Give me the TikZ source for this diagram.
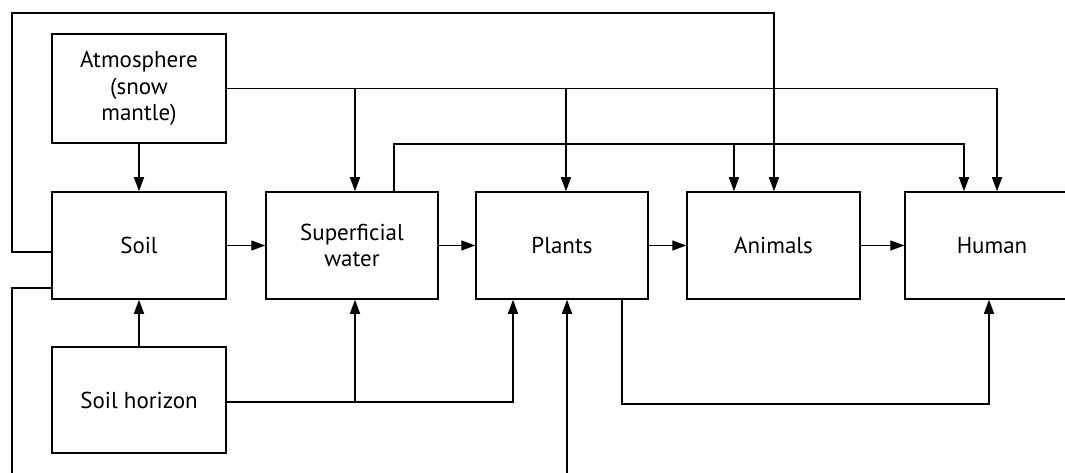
\documentclass[tikz,border=0pt]{standalone}
\usepackage{fontspec}
\setmainfont{PT Sans}
\usetikzlibrary{arrows.meta}
\begin{document}
\begin{tikzpicture}[x=1pt,y=-1pt,
  box/.style={draw,line width=1.5pt,minimum width=174pt,minimum height=107pt,inner sep=0pt,align=center,font=\fontsize{23}{26.5}\selectfont},
  arr/.style={line width=1.4pt,-{Triangle[length=14pt,width=10pt]}},
  ln/.style={line width=1.4pt}]
\useasboundingbox (0,0) rectangle (1065,473);
\clip (0,0) rectangle (1065,473);
\node[box,minimum height=109pt] (atm) at (139,88.5) {Atmosphere\\(snow\\mantle)};
\node[box] (soil) at (139,245.5) {Soil};
\node[box,minimum height=106pt] (hor) at (139,400) {Soil horizon};
\node[box,minimum width=172pt] (sw) at (352,245.5) {Superficial\\water};
\node[box,minimum width=172pt] (pl) at (562,245.5) {Plants};
\node[box,minimum width=173pt] (an) at (773.5,245.5) {Animals};
\node[box] (hu) at (992,245.5) {Human};
% vertical links in the left column
\draw[arr] (atm) -- (soil);
\draw[arr] (hor) -- (soil);
% main chain
\draw[arr] (soil) -- (sw);
\draw[arr] (sw) -- (pl);
\draw[arr] (pl) -- (an);
\draw[arr] (an) -- (hu);
% top loop soil -> animals
\coordinate (tl) at (12,252);
\coordinate (tr) at (774,13);
\draw[arr] (soil.west |- tl) -- (tl) |- (tr) -- (tr |- an.north);
% bottom loop from soil
\coordinate (bl) at (12,288);
\coordinate (bb) at (12,480);
\draw[ln] (soil.west |- bl) -- (bl) -- (bb);
% input from below to plants
\coordinate (pb) at (567,480);
\draw[arr] (pb) -- (pb |- pl.south);
% atmosphere distribution line
\coordinate (a1) at (355,88.5);
\coordinate (a2) at (566,88.5);
\coordinate (a3) at (997,88.5);
\draw[ln] (atm.east) -- (a3);
\draw[arr] (a1) -- (a1 |- sw.north);
\draw[arr] (a2) -- (a2 |- pl.north);
\draw[arr] (a3) -- (a3 |- hu.north);
% superficial water distribution line
\coordinate (s0) at (394,144);
\coordinate (s1) at (734,144);
\coordinate (s2) at (964,144);
\draw[arr] (s0 |- sw.north) -- (s0) -- (s2) -- (s2 |- hu.north);
\draw[arr] (s1) -- (s1 |- an.north);
% soil horizon line
\coordinate (h0) at (355,402);
\coordinate (h1) at (513,402);
\draw[arr] (hor.east |- h0) -- (h1) -- (h1 |- pl.south);
\draw[arr] (h0) -- (h0 |- sw.south);
% plants -> human below
\coordinate (q0) at (622,404);
\coordinate (q1) at (989,404);
\draw[arr] (q0 |- pl.south) -- (q0) -- (q1) -- (q1 |- hu.south);
\end{tikzpicture}
\end{document}
